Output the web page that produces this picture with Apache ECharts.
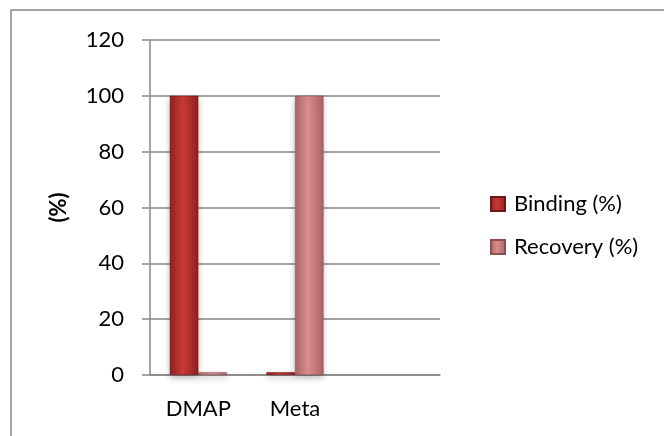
<!DOCTYPE html>
<html>
<head>
<meta charset="utf-8">
<script src="https://cdn.jsdelivr.net/npm/echarts@6/dist/echarts.min.js"></script>
<style>
  html, body { margin: 0; padding: 0; background: #fff; }
  #chart { width: 664px; height: 436px; }
</style>
</head>
<body>
<div id="chart"></div>
<script>
// Chart data
const categories = ['DMAP', 'Meta', ''];
const bindingValues = [100, 1, null];
const recoveryValues = [1, 100, null];
const seriesNames = ['Binding (%)', 'Recovery (%)'];
const yTicks = { min: 0, max: 120, interval: 20 };

const FONT = 'Lato, "Open Sans", sans-serif';
const FS = 22;

function barGradient(edge, mid) {
  return new echarts.graphic.LinearGradient(0, 0, 1, 0, [
    { offset: 0, color: edge },
    { offset: 0.45, color: mid },
    { offset: 1, color: edge }
  ]);
}

const chart = echarts.init(document.getElementById('chart'), null, { renderer: 'canvas' });

chart.setOption({
  backgroundColor: '#ffffff',
  animation: false,
  graphic: [{
    type: 'rect',
    shape: { x: 11, y: 10, width: 700, height: 500 },
    style: { fill: 'none', stroke: '#868686', lineWidth: 1.5 },
    silent: true
  }],
  grid: { left: 150, top: 40, width: 290, height: 335 },
  legend: {
    orient: 'vertical',
    left: 485,
    top: 188,
    itemGap: 21,
    itemWidth: 14,
    itemHeight: 14,
    icon: 'rect',
    textStyle: { fontFamily: FONT, fontSize: FS, color: '#000', padding: [0, 0, 0, 4] },
    data: seriesNames
  },
  xAxis: {
    type: 'category',
    data: categories,
    axisLine: { show: true, lineStyle: { color: '#868686', width: 1.5 } },
    axisTick: { show: false },
    axisLabel: { fontFamily: FONT, fontSize: FS, color: '#000', margin: 23 }
  },
  yAxis: {
    type: 'value',
    min: yTicks.min,
    max: yTicks.max,
    interval: yTicks.interval,
    name: '(%)',
    nameLocation: 'middle',
    nameGap: 80,
    nameRotate: 90,
    nameTextStyle: { fontFamily: FONT, fontSize: FS, fontWeight: 'bold', color: '#000' },
    axisLine: { show: true, lineStyle: { color: '#868686', width: 1.5 } },
    axisTick: { show: true, inside: false, length: 8, lineStyle: { color: '#868686', width: 1.5 } },
    axisLabel: { fontFamily: FONT, fontSize: FS, color: '#000', margin: 26 },
    splitLine: { show: true, lineStyle: { color: '#868686', width: 1.5 } }
  },
  series: [
    {
      name: seriesNames[0],
      type: 'bar',
      data: bindingValues,
      barGap: '0%',
      barCategoryGap: '41%',
      itemStyle: {
        color: barGradient('#92201f', '#c83b36'),
        borderColor: '#6e1515',
        borderWidth: 0.5,
        shadowColor: 'rgba(0,0,0,0.25)',
        shadowBlur: 6,
        shadowOffsetY: 3
      }
    },
    {
      name: seriesNames[1],
      type: 'bar',
      data: recoveryValues,
      itemStyle: {
        color: barGradient('#a86565', '#dc8c8c'),
        borderColor: '#8c5050',
        borderWidth: 0.5,
        shadowColor: 'rgba(0,0,0,0.25)',
        shadowBlur: 6,
        shadowOffsetY: 3
      }
    }
  ]
});
</script>
</body>
</html>
